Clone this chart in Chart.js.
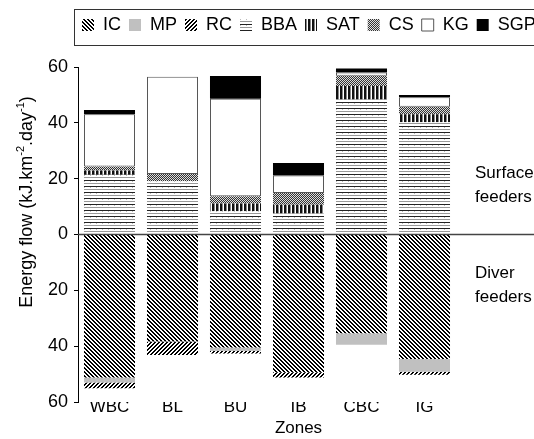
<!DOCTYPE html>
<html><head><meta charset="utf-8">
<script src="https://cdn.jsdelivr.net/npm/chart.js@4.4.0/dist/chart.umd.min.js"></script>
<style>html,body{margin:0;padding:0;background:#fff;}canvas{display:block;}</style>
</head><body>
<canvas id="c" width="534" height="439"></canvas>
<script>
// ---- data ----
const zones = ['WBC', 'BL', 'BU', 'IB', 'CBC', 'IG'];
const IC  = [-51.2, -38.3, -40.5, -49.4, -35.4, -44.6];
const MP  = [-1.8, 0, -1.2, 0, -4.1, -4.6];
const RC  = [-2.1, -4.9, -0.9, -1.8, 0, -1.0];
const BBA = [21.4, 19.1, 8.3, 7.5, 48.4, 40.2];
const SAT = [1.5, 0, 2.8, 3.2, 4.8, 2.9];
const CS  = [1.5, 2.6, 2.6, 4.2, 3.7, 2.7];
const KG  = [18.7, 34.8, 34.9, 6.2, 1.1, 3.4];
const SGP = [1.5, 0, 8.2, 4.5, 1.5, 0.8];
const yMin = -60, yMax = 60, yStep = 20;
const xTitle = 'Zones';
const yTitleParts = [['Energy flow (kJ.km', false], ['-2', true], ['.day', false], ['-1', true], [')', false]];
const upperLabel = ['Surface', 'feeders'];
const lowerLabel = ['Diver', 'feeders'];

// ---- patterns ----
function makePattern(w, h, fn) {
  const c = document.createElement('canvas');
  c.width = w; c.height = h;
  const g = c.getContext('2d');
  for (let y = 0; y < h; y++) for (let x = 0; x < w; x++) {
    g.fillStyle = fn(x, y); g.fillRect(x, y, 1, 1);
  }
  return document.getElementById('c').getContext('2d').createPattern(c, 'repeat');
}
const pIC  = makePattern(4, 4, (x, y) => (((x - y) % 4 + 4) % 4 < 2) ? '#000' : '#fff');
const pRC  = makePattern(4, 4, (x, y) => ((x + y) % 4 < 2) ? '#000' : '#fff');
const pBBA = makePattern(6, 6, (x, y) => y === 0 ? '#222' : (y === 3 ? '#999' : ((x === 0 && y === 1) ? '#bbb' : '#fff')));
const pSAT = makePattern(4, 1, (x) => ['#111', '#111', '#888', '#fff'][x]);
const pCS  = makePattern(2, 2, (x, y) => ((x + y) % 2) ? '#333' : '#ddd');

const FONT = "'Liberation Sans', Arial, sans-serif";
Chart.defaults.font.family = FONT;
Chart.defaults.color = '#000';

const ds = (label, data, bg, extra) => Object.assign({
  label, data, backgroundColor: bg, borderWidth: 0,
  barPercentage: 0.81, categoryPercentage: 1.0
}, extra || {});

const custom = {
  id: 'custom',
  beforeLayout(chart) {
    const lg = chart.legend;
    if (lg && !lg._patched) {
      const f = lg.fit;
      lg.fit = function () { f.call(this); this.height = 67; };
      lg._patched = true;
    }
  },
  beforeDraw(chart) {
    const lg = chart.legend;
    lg.left = 74; lg.right = 620; lg.top = 8;
  },
  afterDatasetsDraw(chart) {
    const ctx = chart.ctx, a = chart.chartArea;
    const y0 = chart.scales.y.getPixelForValue(0);
    ctx.save();
    ctx.strokeStyle = '#444'; ctx.lineWidth = 1.5;
    ctx.beginPath(); ctx.moveTo(a.left, y0); ctx.lineTo(chart.width, y0); ctx.stroke();
    ctx.fillStyle = '#000'; ctx.font = '17px ' + FONT; ctx.textBaseline = 'middle'; ctx.textAlign = 'left';
    ctx.fillText(upperLabel[0], 475, 173);
    ctx.fillText(upperLabel[1], 475, 197);
    ctx.fillText(lowerLabel[0], 475, 273);
    ctx.fillText(lowerLabel[1], 475, 297);
    ctx.restore();
  },
  afterDraw(chart) {
    const ctx = chart.ctx;
    ctx.save();
    ctx.strokeStyle = '#333'; ctx.lineWidth = 1;
    ctx.strokeRect(74.5, 9.5, 560, 36);
    // y title
    ctx.translate(27, 202); ctx.rotate(-Math.PI / 2);
    ctx.fillStyle = '#000'; ctx.textBaseline = 'middle'; ctx.textAlign = 'left';
    const big = '18px ' + FONT, small = '11px ' + FONT;
    let total = 0;
    yTitleParts.forEach(([t, s]) => { ctx.font = s ? small : big; total += ctx.measureText(t).width; });
    let x = -total / 2;
    yTitleParts.forEach(([t, s]) => {
      ctx.font = s ? small : big;
      ctx.fillText(t, x, s ? -6 : 0);
      x += ctx.measureText(t).width;
    });
    ctx.restore();
  }
};

new Chart(document.getElementById('c'), {
  type: 'bar',
  data: {
    labels: [...zones, ''],
    datasets: [
      ds('IC', IC, pIC),
      ds('MP', MP, '#c0c0c0'),
      ds('RC', RC, pRC),
      ds('BBA', BBA, pBBA),
      ds('SAT', SAT, pSAT),
      ds('CS', CS, pCS),
      ds('KG', KG, '#fff', { borderWidth: 1, borderColor: '#555', borderSkipped: false }),
      ds('SGP', SGP, '#000')
    ]
  },
  options: {
    responsive: false, animation: false, devicePixelRatio: 1,
    layout: { padding: { left: 0, right: 15, top: 0, bottom: 0 } },
    plugins: {
      legend: {
        display: true, position: 'top', align: 'start',
        labels: { boxWidth: 12, boxHeight: 12, padding: 8, font: { size: 18 }, color: '#000' }
      },
      tooltip: { enabled: false }
    },
    scales: {
      x: {
        stacked: true,
        grid: { display: false }, border: { display: false },
        ticks: { font: { size: 17 }, padding: -13, color: '#000' },
        title: { display: true, text: xTitle, font: { size: 17 }, padding: 0, color: '#000' },
        afterFit(s) { s.height = 37; }
      },
      y: {
        stacked: true, min: yMin, max: yMax,
        ticks: { stepSize: yStep, callback: v => Math.abs(v), font: { size: 18 }, padding: 6, color: '#000' },
        grid: { drawOnChartArea: false, drawTicks: true, tickLength: 4, color: '#000' },
        border: { display: true, color: '#000' },
        afterFit(s) { s.width = 78; }
      }
    }
  },
  plugins: [custom]
});
</script>
</body></html>
